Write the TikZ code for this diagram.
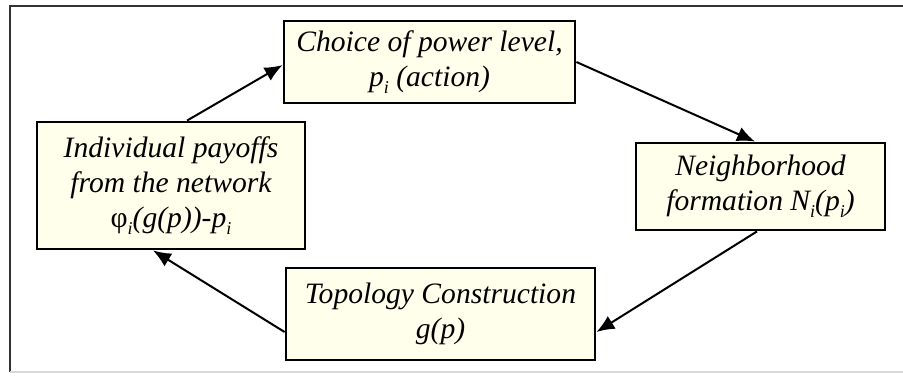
\documentclass[tikz,border=0pt]{standalone}
\usepackage{fontspec}
\setmainfont{Liberation Serif}
\usepackage{tikz}
\usetikzlibrary{arrows.meta}
\definecolor{boxfill}{HTML}{FFFFEC}
\newcommand{\idx}[1]{\raisebox{-.5ex}{\fontsize{9}{9}\selectfont #1}}

\begin{document}
\begin{tikzpicture}[x=.5pt, y=-.5pt, font=\fontsize{14.8}{17.5}\selectfont\itshape,
	stage/.style={draw, line width=1.4pt, fill=boxfill, align=center, inner sep=0pt},
	flow/.style={line width=1pt, -{Latex[length=9pt,width=7.5pt]}}]
	\useasboundingbox (0,0) rectangle (903,375);
	\draw[color=black!80, line width=1.3pt] (905,6) -- (10,6) -- (10,372);
	\draw[color=black!15, line width=1pt] (10,372) -- (905,372);
	% the four stages of the loop
	\node[stage, minimum width=145.5pt, minimum height=41pt] (power) at (429.5,62) {Choice of power level,\\p\idx{i} (action)};
	\node[stage, minimum width=124.5pt, minimum height=43.5pt] (neigh) at (760.5,186.5) {Neighborhood\\formation N\idx{i}(p\idx{i})};
	\node[stage, minimum width=154.5pt, minimum height=46pt] (topo) at (440.5,314) {Topology Construction\\g(p)};
	\node[stage, minimum width=134pt, minimum height=63.5pt] (payoff) at (171,185.5) {Individual payoffs\\from the network\\\textup{φ}\idx{i}(g(p))-p\idx{i}};
	% arrows
	\draw[flow] ([xshift=8pt]payoff.north) -- ([yshift=-1.5pt]power.west);
	\draw[flow] (power.east) -- ([xshift=-2.75pt]neigh.north);
	\draw[flow] ([xshift=-1.75pt]neigh.south) -- ([yshift=-9pt]topo.east);
	\draw[flow] ([yshift=-9pt]topo.west) -- ([xshift=-9pt]payoff.south);
\end{tikzpicture}
\end{document}
